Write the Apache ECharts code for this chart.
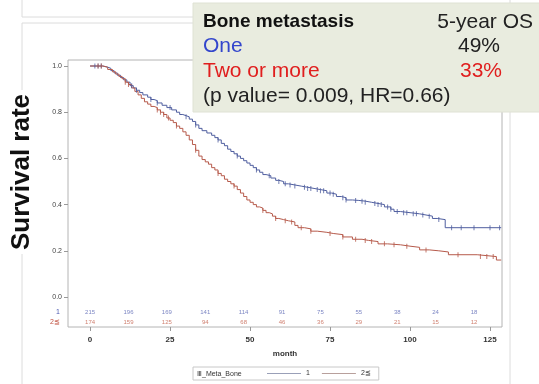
<!DOCTYPE html>
<html><head><meta charset="utf-8">
<script src="https://cdn.jsdelivr.net/npm/echarts@6/dist/echarts.min.js"></script>
<style>html,body{margin:0;padding:0;background:#fff}#c{width:539px;height:384px}</style>
</head><body><div id="c"></div>
<script>
// ---- data ----
const timeOne = [0,4,5.5,6.5,7.5,8.5,9.5,10.5,11.5,12.5,13.5,14.5,15.5,16.5,18,19,20,21,22.5,24,25.5,27,28,29,30,31,32,33,34,35,36.5,38,39,40,41,42,43,44,45,46,47,48,49,50,51,52,53,54,55,56.5,58,59,60.5,62,64,66,68,70,72,74,75.5,77,78.5,80,82,84,86,88,90,92,94,95,97,100,103,105,107,108.5,111,128.5];
const survOne = [1,0.995,0.99,0.98,0.97,0.96,0.95,0.94,0.93,0.915,0.905,0.895,0.885,0.875,0.865,0.855,0.85,0.84,0.83,0.82,0.81,0.80,0.79,0.785,0.78,0.77,0.76,0.745,0.73,0.72,0.71,0.70,0.69,0.68,0.665,0.655,0.64,0.63,0.62,0.61,0.60,0.59,0.58,0.57,0.56,0.55,0.54,0.53,0.525,0.515,0.505,0.50,0.49,0.485,0.48,0.475,0.47,0.465,0.46,0.45,0.445,0.435,0.43,0.42,0.418,0.415,0.41,0.405,0.40,0.39,0.38,0.37,0.365,0.36,0.355,0.35,0.34,0.335,0.30,0.30];
const timeTwo = [0,4,5.5,7,8,9,10,11,12,13,14,15,16,17,18,19,20,21,22,23,24,25,26,27,28,29,30,31,32,33,34,35,36,37,38,39,40,41,42,43,44,45,46,47,48,49,50,51,52,53,54,55,56,57,58,59,60.5,62,64,65,67,69,71,74,76,79,82,85,87,90,93,97,100,103,106,109,112,121,127,128.5];
const survTwo = [1,0.995,0.985,0.975,0.965,0.955,0.945,0.93,0.92,0.905,0.89,0.875,0.86,0.845,0.835,0.825,0.82,0.81,0.80,0.79,0.775,0.765,0.755,0.74,0.73,0.715,0.70,0.68,0.66,0.635,0.61,0.595,0.585,0.575,0.56,0.55,0.535,0.525,0.51,0.50,0.49,0.48,0.465,0.45,0.435,0.42,0.41,0.40,0.39,0.385,0.375,0.365,0.36,0.35,0.34,0.335,0.33,0.325,0.31,0.30,0.295,0.285,0.28,0.275,0.27,0.26,0.25,0.245,0.24,0.23,0.226,0.22,0.215,0.204,0.20,0.195,0.183,0.175,0.16,0.16];
const censorOne = [1.5,2.5,3.5,13,14.5,19,21,25,30,33,40,46,52,56,59,61,62.5,64,67,68,69,71,72,73,75,76,79,80,83,85,86,89,90,91,93,94,96,98,99,101,102,104,106,109,113,116,120,125,128];
const censorTwo = [2.5,3.5,11,12,21,22,23,24.5,27,33,40,45,54,58,61,63,66,69,75,79,83,86,88,92,95,99,105,115,122,124,126];
const riskTimes = [0,12,24,36,48,60,72,84,96,108,120];
const riskOne = [215,196,169,141,114,91,75,55,38,24,18];
const riskTwo = [174,159,125,94,68,46,36,29,21,15,12];
const riskRows = ['2≦','1'];
const xTicks = [0,25,50,75,100,125];
const yTicks = [0,0.2,0.4,0.6,0.8,1.0];
const groupNames = ['1','2≦'];

const BLUE = '#4f5e9f', RED = '#b65a4b';
const FONT = '"Liberation Sans", Arial, sans-serif';
const XMIN = -6.9, XMAX = 128.75;

function survAt(times, surv, t) {
  let s = surv[0];
  for (let i = 0; i < times.length; i++) if (times[i] <= t) s = surv[i];
  return s;
}
const lineOne = timeOne.map((t, i) => [t, survOne[i]]);
const lineTwo = timeTwo.map((t, i) => [t, survTwo[i]]);
const cenOne = censorOne.map(t => [t, survAt(timeOne, survOne, t)]);
const cenTwo = censorTwo.map(t => [t, survAt(timeTwo, survTwo, t)]);
const riskDataOne = riskTimes.map((t, i) => [t, '1', riskOne[i]]);
const riskDataTwo = riskTimes.map((t, i) => [t, '2≦', riskTwo[i]]);

const chart = echarts.init(document.getElementById('c'), null, {renderer: 'canvas'});
const hiddenX = (gi) => ({type: 'value', gridIndex: gi, min: XMIN, max: XMAX, show: false, axisLine: {onZero: false}});

chart.setOption({
  backgroundColor: '#fff',
  animation: false,
  textStyle: {fontFamily: FONT},
  grid: [
    {left: 68, top: 60, width: 434, height: 237, show: false},
    {left: 68, top: 307, width: 434, height: 20, show: false},
    {left: 68, top: 60, width: 434, height: 267, show: true, borderColor: '#b4b4b4', borderWidth: 1, backgroundColor: 'transparent'}
  ],
  xAxis: [
    hiddenX(0),
    {type: 'value', gridIndex: 1, min: XMIN, max: XMAX, position: 'bottom',
      axisLine: {show: false, onZero: false}, splitLine: {show: false},
      axisTick: {show: true, length: 4, lineStyle: {color: '#999'}, customValues: xTicks},
      axisLabel: {customValues: xTicks, fontSize: 8, fontWeight: 'bold', color: '#333', margin: 9},
      name: 'month', nameLocation: 'middle', nameGap: 23,
      nameTextStyle: {fontSize: 8, fontWeight: 'bold', color: '#333'}},
    hiddenX(2)
  ],
  yAxis: [
    {type: 'value', gridIndex: 0, min: 0, max: 1.026, position: 'left',
      axisLine: {show: false, onZero: false}, splitLine: {show: false},
      axisTick: {show: true, length: 4, lineStyle: {color: '#999'}, customValues: yTicks},
      axisLabel: {customValues: yTicks, fontSize: 7, color: '#444', margin: 6, formatter: v => v.toFixed(1)}},
    {type: 'category', gridIndex: 1, data: riskRows, position: 'left',
      axisLine: {show: false, onZero: false}, axisTick: {show: false}, splitLine: {show: false},
      axisLabel: {fontSize: 7, margin: 8, color: (v) => v === '1' ? '#4a58b0' : '#c0503f'}},
    {type: 'value', gridIndex: 2, show: false, min: 0, max: 1, axisLine: {onZero: false}}
  ],
  legend: {
    data: [{name: groupNames[0], itemStyle: {color: '#9aa0b8'}}, {name: groupNames[1], itemStyle: {color: '#b8a09c'}}],
    left: 193, top: 367, orient: 'horizontal',
    icon: 'rect', itemWidth: 34, itemHeight: 1, itemGap: 12,
    padding: [3, 8, 3, 74], borderColor: '#c8c8c8', borderWidth: 1,
    textStyle: {fontSize: 7, color: '#333', fontFamily: FONT}
  },
  series: [
    {name: groupNames[0], type: 'line', xAxisIndex: 0, yAxisIndex: 0, step: 'end', showSymbol: false,
      data: lineOne, lineStyle: {color: BLUE, width: 1}, itemStyle: {color: BLUE}, z: 3},
    {name: groupNames[1], type: 'line', xAxisIndex: 0, yAxisIndex: 0, step: 'end', showSymbol: false,
      data: lineTwo, lineStyle: {color: RED, width: 1}, itemStyle: {color: RED}, z: 3},
    {name: 'c1', type: 'scatter', xAxisIndex: 0, yAxisIndex: 0, data: cenOne, symbol: 'rect', symbolSize: [1, 5],
      itemStyle: {color: BLUE}, z: 4},
    {name: 'c2', type: 'scatter', xAxisIndex: 0, yAxisIndex: 0, data: cenTwo, symbol: 'rect', symbolSize: [1, 5],
      itemStyle: {color: RED}, z: 4},
    {name: 'r1', type: 'scatter', xAxisIndex: 1, yAxisIndex: 1, data: riskDataOne, symbolSize: 0,
      label: {show: true, position: 'inside', formatter: p => p.value[2], fontSize: 6, color: '#5a66b4'}},
    {name: 'r2', type: 'scatter', xAxisIndex: 1, yAxisIndex: 1, data: riskDataTwo, symbolSize: 0,
      label: {show: true, position: 'inside', formatter: p => p.value[2], fontSize: 6, color: '#c4604c'}}
  ],
  graphic: [
    {type: 'rect', z: -10, shape: {x: 22, y: -10, width: 488, height: 27}, style: {fill: 'none', stroke: '#dcdcdc', lineWidth: 1}},
    {type: 'rect', z: -10, shape: {x: 22, y: 23, width: 488, height: 400}, style: {fill: 'none', stroke: '#dcdcdc', lineWidth: 1}},
    {type: 'text', z: 50, x: 22, y: 172, rotation: Math.PI / 2,
      style: {text: 'Survival rate', font: 'bold 26px ' + FONT, fill: '#111', align: 'center', verticalAlign: 'middle', backgroundColor: '#fff', padding: [2, 4]}},
    {type: 'text', z: 50, x: 197, y: 374,
      style: {text: 'Ⅲ_Meta_Bone', font: '7px ' + FONT, fill: '#333', verticalAlign: 'middle'}},
    {type: 'group', z: 100, children: [
      {type: 'rect', shape: {x: 193, y: 3, width: 350, height: 109}, style: {fill: '#e9ecdf', stroke: '#dfe2d4'}},
      {type: 'text', x: 203, y: 22, style: {text: 'Bone metastasis', font: 'bold 19px ' + FONT, fill: '#111', verticalAlign: 'middle'}},
      {type: 'text', x: 533, y: 22, style: {text: '5-year OS', font: '21px ' + FONT, fill: '#222', align: 'right', verticalAlign: 'middle'}},
      {type: 'text', x: 203, y: 46.5, style: {text: 'One', font: '21px ' + FONT, fill: '#3346cc', verticalAlign: 'middle'}},
      {type: 'text', x: 500, y: 46.5, style: {text: '49%', font: '21px ' + FONT, fill: '#222', align: 'right', verticalAlign: 'middle'}},
      {type: 'text', x: 203, y: 71, style: {text: 'Two or more', font: '21px ' + FONT, fill: '#e01e1e', verticalAlign: 'middle'}},
      {type: 'text', x: 502, y: 71, style: {text: '33%', font: '21px ' + FONT, fill: '#e01e1e', align: 'right', verticalAlign: 'middle'}},
      {type: 'text', x: 203, y: 96, style: {text: '(p value= 0.009, HR=0.66)', font: '21px ' + FONT, fill: '#222', verticalAlign: 'middle'}}
    ]}
  ]
});
</script>
</body></html>
